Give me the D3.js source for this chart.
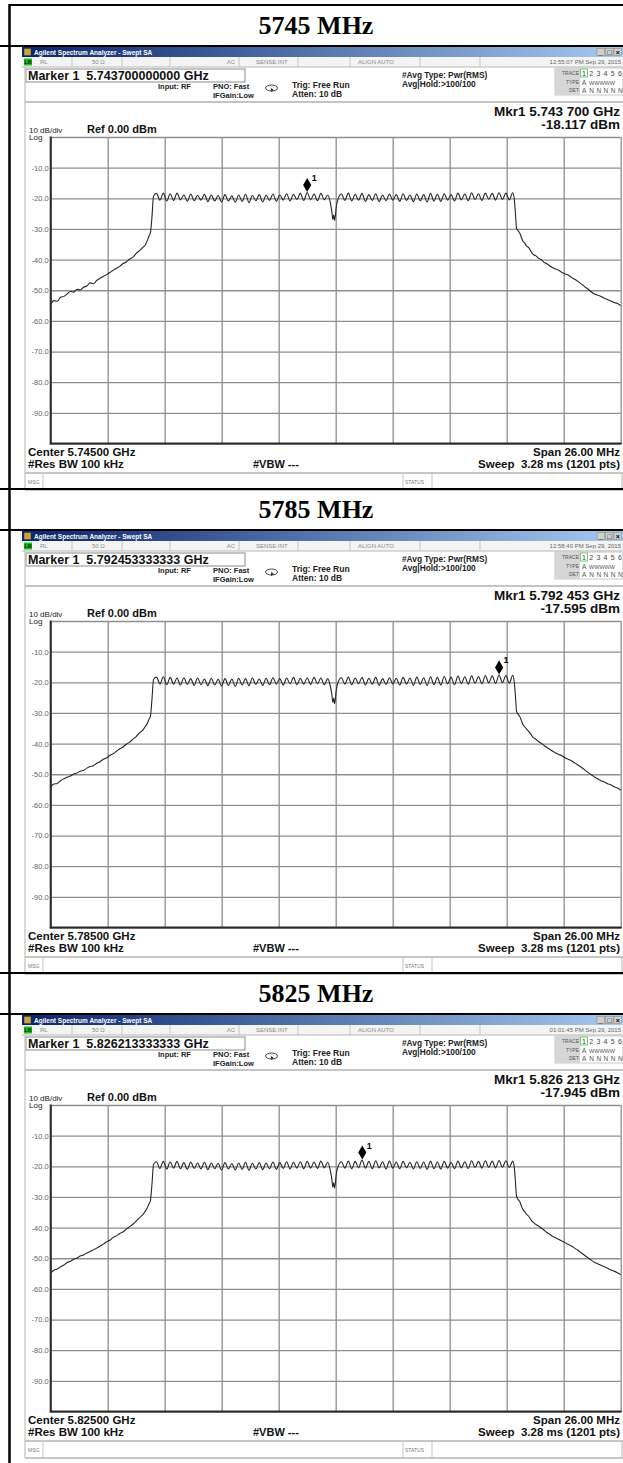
<!DOCTYPE html>
<html>
<head>
<meta charset="utf-8">
<script src="https://cdn.jsdelivr.net/npm/d3@7"></script>
<style>
  body { margin: 0; background: #fff; }
  svg { display: block; }
  text { white-space: pre; }
</style>
</head>
<body>
<svg id="chart" width="623" height="1463"></svg>
<script>
// ---- Channel captures: 802.11 OFDM emission, swept SA, 26 MHz span ----
const channelTitles = ["5745 MHz", "5785 MHz", "5825 MHz"];
const centerFreqs = [5745, 5785, 5825];            // MHz
const centerLabels = ["5.74500", "5.78500", "5.82500"];
const spanMHz = 26;
const levelTicks = [-10, -20, -30, -40, -50, -60, -70, -80, -90];
const timestamps = ["12:55:07 PM Sep 29, 2015", "12:58:40 PM Sep 29, 2015", "01:01:45 PM Sep 29, 2015"];
const markerFreqText = ["5.743700000000", "5.792453333333", "5.826213333333"];
const markerReadout = ["5.743 700", "5.792 453", "5.826 213"];
const markerOffsets = [-1.3, 7.453333, 1.213333];  // MHz from center
const markerLevels = [-18.117, -17.595, -17.945];   // dBm

// Frequency offsets (MHz from center) shared by all three traces
const traceOffsets = [
  -13, -12.85, -12.7, -12.55, -12.4, -12.25, -12.1, -11.95, -11.8, -11.65, -11.5, -11.35,
  -11.2, -11.05, -10.9, -10.75, -10.6, -10.45, -10.3, -10.15, -10, -9.85, -9.7, -9.55,
  -9.4, -9.25, -9.1, -8.95, -8.8, -8.7, -8.6, -8.52, -8.45, -8.38, -8.31,
  -8.175, -8.019, -7.863, -7.706, -7.55, -7.394, -7.238, -7.081, -6.925, -6.769, -6.613, -6.456,
  -6.3, -6.144, -5.988, -5.831, -5.675, -5.519, -5.363, -5.206, -5.05, -4.894, -4.738, -4.581,
  -4.425, -4.269, -4.113, -3.956, -3.8, -3.644, -3.488, -3.331, -3.175, -3.019, -2.863, -2.706,
  -2.55, -2.394, -2.238, -2.081, -1.925, -1.769, -1.613, -1.456, -1.3, -1.144, -0.988, -0.831,
  -0.675, -0.519, -0.363,
  -0.26, -0.18, -0.13, -0.09, -0.05, 0.03, 0.106,
  0.263, 0.419, 0.575, 0.731, 0.888, 1.044, 1.2, 1.356, 1.513, 1.669, 1.825, 1.981,
  2.138, 2.294, 2.45, 2.606, 2.763, 2.919, 3.075, 3.231, 3.388, 3.544, 3.7, 3.856,
  4.013, 4.169, 4.325, 4.481, 4.638, 4.794, 4.95, 5.106, 5.263, 5.419, 5.575, 5.731,
  5.888, 6.044, 6.2, 6.356, 6.513, 6.669, 6.825, 6.981, 7.138, 7.294, 7.45, 7.606,
  7.763, 7.919, 8.075,
  8.15, 8.2, 8.25, 8.32, 8.4, 8.47, 8.54, 8.62, 8.7, 8.8, 8.9, 9.0, 9.12, 9.25, 9.38, 9.5,
  9.62, 9.75, 9.88, 10.0, 10.15, 10.3, 10.45, 10.6, 10.75, 10.9, 11.05, 11.2, 11.35, 11.5,
  11.65, 11.8, 11.95, 12.1, 12.25, 12.4, 12.55, 12.7, 12.85, 13.0
];

// Trace levels (dBm) at the offsets above
const trace5745 = [
  -54.5, -53.4, -53.6, -52.3, -52.0, -51.2, -50.4, -50.6, -49.7, -49.9, -49.0, -48.6,
  -47.6, -47.9, -46.8, -46.1, -45.5, -44.9, -44.2, -43.5, -42.8, -42.2, -41.3, -40.8,
  -39.8, -39.2, -38.0, -37.1, -36.0, -35.4, -33.9, -32.4, -31.2, -26.0, -19.3,
  -18.4, -20.6, -18.3, -20.9, -18.5, -20.7, -18.3, -20.5, -18.9, -21.0, -18.6, -20.8,
  -19.0, -20.6, -18.7, -21.1, -18.9, -20.9, -19.1, -21.2, -18.8, -20.9, -19.2, -21.3,
  -18.9, -21.0, -18.7, -21.4, -19.1, -20.8, -18.8, -21.2, -19.0, -20.7, -18.6, -21.0,
  -18.9, -20.6, -18.5, -20.9, -18.7, -20.4, -18.4, -20.7, -18.117, -20.5, -18.6, -20.8,
  -18.4, -20.5, -18.9,
  -20.9, -24.2, -26.9, -25.4, -27.2, -22.6, -20.2,
  -18.6, -20.7, -18.3, -20.9, -18.7, -20.6, -18.4, -21.0, -18.8, -20.7, -18.5, -21.1,
  -18.9, -20.8, -18.6, -20.6, -18.8, -21.0, -18.5, -20.7, -18.9, -21.1, -18.6, -20.8,
  -18.8, -21.2, -18.4, -20.9, -18.7, -21.0, -18.5, -20.6, -18.8, -20.9, -18.3, -20.5,
  -18.6, -20.8, -18.2, -20.4, -18.5, -20.7, -18.3, -20.3, -18.4, -20.6, -18.2, -20.4,
  -18.3, -20.5, -18.2,
  -20.5, -25.0, -29.8, -30.6, -31.4, -32.8, -34.0, -34.6, -35.5, -36.1, -37.2, -38.3,
  -38.7, -39.6, -40.0, -40.9, -41.3, -42.0, -42.6, -43.0, -43.4, -44.1, -44.6, -45.0,
  -45.8, -46.4, -47.1, -47.9, -48.8, -49.6, -50.5, -51.2, -51.6, -52.0, -52.6, -53.0,
  -53.5, -54.0, -54.3, -55.0
];
const trace5785 = [
  -54.0, -53.2, -53.0, -52.1, -51.5, -51.0, -50.6, -49.9, -49.6, -49.0, -48.7, -48.0,
  -47.5, -47.2, -46.4, -45.9, -45.1, -44.7, -43.8, -43.3, -42.5, -41.7, -41.1, -40.2,
  -39.5, -38.6, -37.7, -36.5, -35.6, -34.6, -33.5, -32.1, -31.0, -25.5, -19.1,
  -18.3, -20.5, -18.2, -20.8, -18.4, -20.6, -18.6, -20.9, -18.5, -20.7, -18.8, -21.0,
  -18.6, -20.8, -18.9, -21.1, -18.7, -20.9, -19.0, -21.2, -18.8, -21.0, -18.9, -21.3,
  -18.7, -20.9, -18.8, -21.1, -18.6, -20.7, -18.9, -21.0, -18.7, -20.8, -18.5, -20.6,
  -18.8, -20.9, -18.6, -20.5, -18.4, -20.8, -18.7, -20.6, -18.5, -20.7, -18.4, -20.5,
  -18.6, -20.8, -18.8,
  -20.8, -23.8, -26.6, -25.1, -27.0, -22.3, -20.0,
  -18.5, -20.6, -18.3, -20.8, -18.6, -20.5, -18.4, -20.9, -18.7, -20.6, -18.4, -21.0,
  -18.8, -20.7, -18.5, -20.5, -18.7, -20.9, -18.4, -20.6, -18.6, -21.0, -18.3, -20.7,
  -18.5, -21.0, -18.2, -20.8, -18.4, -20.9, -18.1, -20.5, -18.3, -20.8, -18.0, -20.4,
  -18.2, -20.6, -17.9, -20.3, -18.1, -20.5, -17.8, -20.2, -17.9, -20.4, -17.595, -20.1,
  -17.8, -20.3, -17.7,
  -20.3, -24.6, -29.5, -30.4, -31.2, -32.5, -33.8, -34.5, -35.2, -36.0, -36.9, -38.0,
  -38.5, -39.3, -39.9, -40.6, -41.2, -41.8, -42.4, -42.9, -43.5, -43.9, -44.6, -45.1,
  -45.6, -46.3, -47.0, -47.7, -48.5, -49.4, -50.1, -50.9, -51.5, -52.1, -52.5, -53.1,
  -53.4, -54.1, -54.5, -55.2
];
const trace5825 = [
  -54.8, -53.9, -53.5, -52.8, -52.2, -51.4, -51.0, -50.3, -49.9, -49.3, -48.9, -48.3,
  -47.8, -47.2, -46.7, -46.0, -45.4, -44.6, -44.1, -43.2, -42.7, -41.9, -41.4, -40.5,
  -39.7, -38.9, -37.9, -36.8, -35.8, -34.8, -33.6, -32.3, -31.1, -25.8, -19.4,
  -18.5, -20.7, -18.4, -20.9, -18.6, -20.6, -18.4, -20.8, -18.8, -21.0, -18.6, -20.7,
  -18.9, -20.9, -18.7, -21.1, -18.9, -20.8, -19.0, -21.2, -18.8, -20.9, -19.1, -21.2,
  -18.9, -21.0, -18.7, -21.3, -19.0, -20.9, -18.8, -21.1, -18.9, -20.8, -18.6, -21.0,
  -18.8, -20.7, -18.5, -20.9, -18.7, -20.6, -18.5, -20.8, -18.4, -20.6, -18.6, -20.7,
  -18.3, -20.5, -18.7,
  -20.9, -24.0, -26.8, -25.3, -27.1, -22.4, -20.1,
  -18.5, -20.6, -18.3, -20.8, -18.4, -20.5, -17.945, -20.6, -18.4, -20.8, -18.2, -20.5,
  -18.5, -20.9, -18.3, -20.6, -18.6, -20.8, -18.4, -20.5, -18.7, -20.9, -18.5, -20.7,
  -18.6, -21.0, -18.3, -20.8, -18.6, -20.9, -18.4, -20.6, -18.7, -20.8, -18.3, -20.5,
  -18.5, -20.7, -18.2, -20.4, -18.4, -20.6, -18.2, -20.4, -18.3, -20.5, -18.1, -20.3,
  -18.2, -20.4, -18.3,
  -20.6, -25.2, -29.9, -30.8, -31.6, -33.0, -34.1, -34.8, -35.6, -36.3, -37.4, -38.2,
  -38.9, -39.5, -40.2, -40.8, -41.5, -42.1, -42.8, -43.2, -43.8, -44.3, -44.9, -45.4,
  -46.0, -46.7, -47.4, -48.2, -49.0, -49.8, -50.6, -51.3, -51.8, -52.3, -52.8, -53.3,
  -53.8, -54.2, -54.7, -55.3
];
const traces = [trace5745, trace5785, trace5825];

// ---- layout ----
const W = 623;
const panelStep = 484;     // vertical pitch of one table row pair
const firstShotTop = 47;   // top of first analyzer window
const SANS = "'Liberation Sans', Arial, sans-serif";
const SERIF = "'Liberation Serif', 'Times New Roman', serif";
const fixed = n => d => d.toFixed(n);   // plain ASCII hyphen for negatives

const svg = d3.select("#chart");
const defs = svg.append("defs");
const grad = defs.append("linearGradient").attr("id", "titlebar").attr("x1", 0).attr("x2", 1);
grad.append("stop").attr("offset", 0).attr("stop-color", "#0a246a");
grad.append("stop").attr("offset", 1).attr("stop-color", "#a6caf0");
defs.append("clipPath").attr("id", "pageclip").append("rect").attr("width", W).attr("height", 1463);

function text(g, x, y, s, o = {}) {
  return g.append("text").attr("x", x).attr("y", y).text(s)
    .attr("font-family", o.family || SANS)
    .attr("font-size", o.size || 8)
    .attr("font-weight", o.weight || "normal")
    .attr("fill", o.fill || "#000")
    .attr("text-anchor", o.anchor || "start");
}
function hline(g, x1, x2, y, stroke, w) {
  g.append("line").attr("x1", x1).attr("x2", x2).attr("y1", y).attr("y2", y)
    .attr("stroke", stroke).attr("stroke-width", w);
}
function vline(g, x, y1, y2, stroke, w) {
  g.append("line").attr("x1", x).attr("x2", x).attr("y1", y1).attr("y2", y2)
    .attr("stroke", stroke).attr("stroke-width", w);
}

const root = svg.append("g").attr("clip-path", "url(#pageclip)");

channelTitles.forEach((title, i) => {
  const top = firstShotTop + i * panelStep;
  const g = root.append("g");
  const cf = centerFreqs[i];

  // --- table row with the channel caption ---
  hline(g, i === 0 ? 9 : 0, W, top - 42, "#000", 2);
  hline(g, 0, W, top - 1, "#000", 2);
  text(g, 316, top - 13, title, { family: SERIF, size: 26, weight: "bold", anchor: "middle" });

  // --- analyzer window ---
  const sx0 = 22;
  g.append("rect").attr("x", sx0).attr("y", top).attr("width", W - sx0).attr("height", 444).attr("fill", "#fff");
  // title bar
  g.append("rect").attr("x", sx0).attr("y", top).attr("width", W - sx0).attr("height", 10).attr("fill", "url(#titlebar)");
  g.append("rect").attr("x", 24).attr("y", top + 1.5).attr("width", 7).attr("height", 7).attr("fill", "#c8a53c").attr("stroke", "#333").attr("stroke-width", 0.5);
  text(g, 34, top + 7.6, "Agilent Spectrum Analyzer - Swept SA", { size: 6.5, weight: "bold", fill: "#fff" });
  ["_", "□", "×"].forEach((c, j) => {
    const bx = 597 + j * 8.5;
    g.append("rect").attr("x", bx).attr("y", top + 1.5).attr("width", 7.5).attr("height", 7).attr("fill", "#d4d0c8").attr("stroke", "#808080").attr("stroke-width", 0.5);
    text(g, bx + 3.75, top + 7.6, c, { size: 7, weight: "bold", anchor: "middle" });
  });

  // status row
  const sr = top + 10;
  g.append("rect").attr("x", sx0).attr("y", sr).attr("width", W - sx0).attr("height", 10).attr("fill", "#f4f4f4");
  hline(g, sx0, W, sr + 10, "#b8b8b8", 1);
  g.append("rect").attr("x", 24).attr("y", sr + 1.5).attr("width", 8).attr("height", 7).attr("fill", "#19c319");
  text(g, 28, sr + 7, "LXI", { size: 4.5, weight: "bold", anchor: "middle" });
  [72, 122, 170, 239, 298, 350, 420, 480].forEach(x => vline(g, x, sr, sr + 10, "#c4c4c4", 1));
  const grey = "#8a8a8a";
  text(g, 40, sr + 7.3, "RL", { size: 6, fill: grey });
  text(g, 92, sr + 7.3, "50 Ω", { size: 6, fill: grey });
  text(g, 235, sr + 7.3, "AC", { size: 6, fill: grey, anchor: "end" });
  text(g, 256, sr + 7.3, "SENSE:INT", { size: 6, fill: grey });
  text(g, 358, sr + 7.3, "ALIGN AUTO", { size: 6, fill: grey });
  text(g, 621, sr + 7.3, timestamps[i], { size: 6, fill: "#666", anchor: "end" });

  // marker entry box
  g.append("rect").attr("x", 26).attr("y", top + 22).attr("width", 219).attr("height", 13)
    .attr("fill", "#fff").attr("stroke", "#8c8c8c").attr("stroke-width", 1);
  text(g, 28, top + 33, "Marker 1  " + markerFreqText[i] + " GHz", { size: 12.5, weight: "bold", fill: "#111" });

  // acquisition settings
  const set = { size: 7.5, weight: "bold", fill: "#222" };
  text(g, 158, top + 42, "Input: RF", set);
  text(g, 213, top + 42, "PNO: Fast", set);
  text(g, 213, top + 50.5, "IFGain:Low", set);
  g.append("ellipse").attr("cx", 271.5).attr("cy", top + 41).attr("rx", 6).attr("ry", 3)
    .attr("fill", "none").attr("stroke", "#333").attr("stroke-width", 0.9);
  g.append("path").attr("d", `M271,${top + 41} l3,2 l-3,2 z`).attr("fill", "#333");
  text(g, 292, top + 41, "Trig: Free Run", { size: 8.5, weight: "bold", fill: "#222" });
  text(g, 292, top + 50, "Atten: 10 dB", { size: 8.5, weight: "bold", fill: "#222" });
  text(g, 402, top + 31, "#Avg Type: Pwr(RMS)", { size: 8.3, weight: "bold", fill: "#222" });
  text(g, 402, top + 40, "Avg|Hold:>100/100", { size: 8.3, weight: "bold", fill: "#222" });

  // trace status box
  g.append("rect").attr("x", 555).attr("y", top + 21).attr("width", 68).attr("height", 27).attr("fill", "#fff").attr("stroke", "#c8c8c8");
  g.append("rect").attr("x", 555).attr("y", top + 21).attr("width", 25).attr("height", 27).attr("fill", "#d6d6d6");
  const tsm = { size: 5, fill: "#555", anchor: "end" };
  text(g, 579, top + 28, "TRACE", tsm);
  text(g, 579, top + 36.5, "TYPE", tsm);
  text(g, 579, top + 45, "DET", tsm);
  g.append("rect").attr("x", 580.5).attr("y", top + 22).attr("width", 7).attr("height", 8).attr("fill", "none").attr("stroke", "#6fd06f");
  ["1", "2", "3", "4", "5", "6"].forEach((c, j) => text(g, 582 + j * 7.2, top + 29, c, { size: 7, fill: "#444" }));
  text(g, 582, top + 37.5, "A", { size: 6.5, fill: "#555" });
  text(g, 589, top + 37.5, "WWWWW", { size: 5.5, fill: "#555" });
  ["A", "N", "N", "N", "N", "N"].forEach((c, j) => text(g, 582 + j * 7.2, top + 46, c, { size: 6.5, fill: "#555" }));

  hline(g, 25, W, top + 55, "#b0b0b0", 1.5);
  vline(g, 25, top + 20, top + 443, "#c0c0c0", 1.2);

  // marker readout
  text(g, 620, top + 69, "Mkr1 " + markerReadout[i] + " GHz", { size: 13.5, weight: "bold", fill: "#111", anchor: "end" });
  text(g, 620, top + 82, fixed(3)(markerLevels[i]) + " dBm", { size: 13.5, weight: "bold", fill: "#111", anchor: "end" });

  text(g, 29, top + 86, "10 dB/div", { size: 8, fill: "#222" });
  text(g, 29, top + 92.5, "Log", { size: 8, fill: "#222" });
  text(g, 87, top + 86, "Ref 0.00 dBm", { size: 11, weight: "bold", fill: "#111" });

  // --- graticule & trace ---
  const gx0 = 50.7, gx1 = 620.7, gy0 = top + 90, gy1 = top + 396.5;
  const x = d3.scaleLinear().domain([cf - spanMHz / 2, cf + spanMHz / 2]).range([gx0, gx1]);
  const y = d3.scaleLinear().domain([0, -100]).range([gy0, gy1]);
  const divs = d3.range(11).map(k => cf - spanMHz / 2 + k * spanMHz / 10);

  g.append("g").attr("transform", `translate(0,${gy1})`)
    .call(d3.axisBottom(x).tickValues(divs).tickSize(-(gy1 - gy0)).tickFormat(""))
    .call(a => a.select(".domain").remove())
    .call(a => a.selectAll("line").attr("stroke", "#8e8e8e").attr("stroke-width", 1.3));

  g.append("g").attr("transform", `translate(${gx0},0)`)
    .call(d3.axisLeft(y).tickValues([0, ...levelTicks, -100]).tickSize(-(gx1 - gx0)).tickFormat(""))
    .call(a => a.select(".domain").remove())
    .call(a => a.selectAll("line").attr("stroke", "#8e8e8e").attr("stroke-width", 1.3));

  g.append("g").attr("transform", `translate(${gx0 - 2},0)`)
    .call(d3.axisLeft(y).tickValues(levelTicks).tickSize(0).tickPadding(0).tickFormat(fixed(1)))
    .call(a => a.select(".domain").remove())
    .call(a => a.selectAll("text").attr("font-family", SANS).attr("font-size", 7.5).attr("fill", "#666"));

  // darker left and bottom edges of the graticule
  vline(g, gx0, gy0 - 0.5, gy1 + 1, "#2a2a2a", 2);
  hline(g, gx0 - 1, gx1 + 1, gy1, "#2a2a2a", 2);

  const pts = traceOffsets.map((o, k) => ({ f: cf + o, v: traces[i][k] }));
  const line = d3.line().x(d => x(d.f)).y(d => y(d.v)).curve(d3.curveMonotoneX);
  g.append("path").datum(pts).attr("d", line)
    .attr("fill", "none").attr("stroke", "#262626").attr("stroke-width", 1.1).attr("stroke-linejoin", "round");

  // marker 1
  const mx = x(cf + markerOffsets[i]), my = y(markerLevels[i]);
  g.append("path").attr("d", d3.symbol(d3.symbolDiamond, 58)())
    .attr("transform", `translate(${mx},${my - 7.5})`).attr("fill", "#000");
  text(g, mx + 4.5, my - 11.5, "1", { size: 9, weight: "bold" });

  // --- footer ---
  const fb = { size: 11.5, weight: "bold", fill: "#111" };
  text(g, 28, top + 408.5, "Center " + centerLabels[i] + " GHz", fb);
  text(g, 28, top + 421, "#Res BW 100 kHz", fb);
  text(g, 253, top + 421, "#VBW ---", { size: 11, weight: "bold", fill: "#111" });
  text(g, 620, top + 408.5, "Span " + fixed(2)(spanMHz) + " MHz", { ...fb, anchor: "end" });
  text(g, 620, top + 421, "Sweep  3.28 ms (1201 pts)", { ...fb, anchor: "end" });

  hline(g, 25, W, top + 426, "#b4b4b4", 1.5);
  hline(g, 25, W, top + 443, "#b4b4b4", 1.5);
  vline(g, 43, top + 426, top + 443, "#c4c4c4", 1);
  vline(g, 403, top + 426, top + 443, "#c4c4c4", 1);
  vline(g, 432, top + 426, top + 443, "#c4c4c4", 1);
  vline(g, 622, top + 426, top + 443, "#b4b4b4", 1);
  text(g, 28, top + 437, "MSG", { size: 5, fill: "#777" });
  text(g, 405, top + 437, "STATUS", { size: 5, fill: "#777" });
});

// table left border
vline(root, 9.5, 4, 1463, "#000", 2.5);
</script>
</body>
</html>
